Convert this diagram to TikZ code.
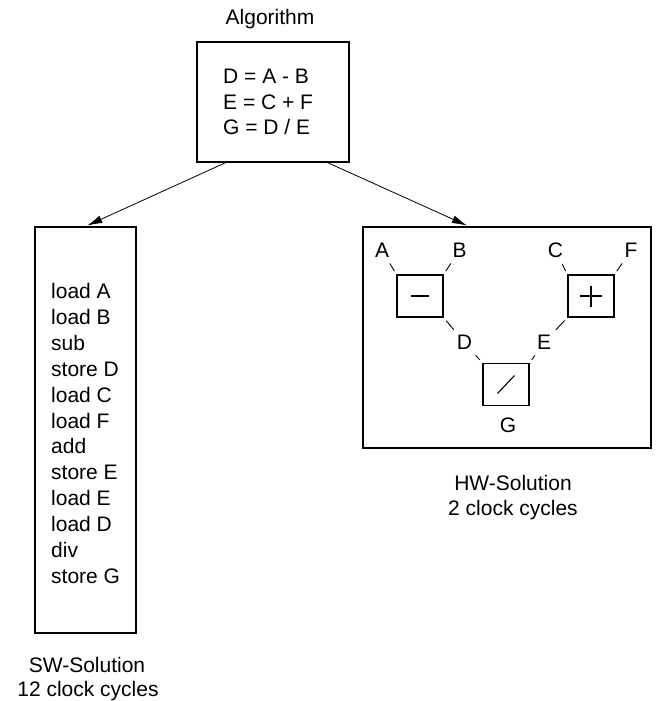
\documentclass[tikz,border=0pt]{standalone}
\usepackage{fontspec}
\setmainfont{Liberation Sans}
\usetikzlibrary{positioning}
\usetikzlibrary{arrows.meta}

\tikzset{
    box/.style={draw, line width=1.3pt, inner sep=0pt},
    opbox/.style={draw, line width=1.1pt, minimum width=46pt, minimum height=42pt, inner sep=0pt},
    sig/.style={inner sep=3pt},
    wire/.style={line width=0.9pt, shorten <=4pt, shorten >=3pt},
    flow/.style={line width=0.8pt, -{Latex[length=15pt,width=8pt]}, shorten >=2pt},
}

\begin{document}
\begin{tikzpicture}[x=1pt, y=-1pt, font=\fontsize{21}{25.6}\selectfont]
    \useasboundingbox (0,0) rectangle (656,701);

    % algorithm
    \node[anchor=base] (algtitle) at (270,25) {Algorithm};
    \node[box, minimum width=152pt, minimum height=120pt] (algo) at (273,102) {};
    \foreach \t [count=\i] in {D = A - B, E = C + F, G = D / E}
    {
        \node[anchor=base west, inner sep=0pt] (eq\i) at (223, 58+25.5*\i) {\t};
    }

    % software side
    \node[box, minimum width=101pt, minimum height=406pt] (swbox) at (85.5,430) {};
    \foreach \t [count=\i] in {load A, load B, sub, store D, load C, load F, add, store E, load E, load D, div, store G}
    {
        \node[anchor=base west, inner sep=0pt] (swline\i) at (51, 272.6+25.9*\i) {\t};
    }
    \node[anchor=base] (swcap1) at (87,672) {SW-Solution};
    \node[anchor=base] (swcap2) at (88,696) {12 clock cycles};

    % hardware side
    \node[box, minimum width=288pt, minimum height=221pt] (hwbox) at (507,337.5) {};
    \node[opbox] (sub) at (420,296) {};
    \node[opbox] (add) at (591,296) {};
    \node[opbox] (div) at (506,384.5) {};
    \draw[line width=1.1pt] (sub.center) +(-9,0) -- +(9,0);
    \draw[line width=1.1pt] (add.center) +(-11,0) -- +(11,0);
    \draw[line width=1.1pt] (add.center) +(0,-10.5) -- +(0,10.5);
    \draw[line width=1.1pt] (div.center) +(-8.5pt,-9pt) -- +(8.5pt,9pt);

    \node[sig] (A) at (382,250.5) {A};
    \node[sig] (B) at (459.5,250.5) {B};
    \node[sig] (C) at (555.5,250.5) {C};
    \node[sig] (F) at (631,250.5) {F};
    \node[sig] (D) at (464.5,342.5) {D};
    \node[sig] (E) at (544,342.5) {E};
    \node[sig] (G) at (508,425.5) {G};

    \draw[wire] (sub.north west) -- (A);
    \draw[wire] (sub.north east) -- (B);
    \draw[wire] (add.north west) -- (C);
    \draw[wire] (add.north east) -- (F);
    \draw[wire] (sub.south east) -- (D);
    \draw[wire] (div.north west) -- (D);
    \draw[wire] (add.south west) -- (E);
    \draw[wire] (div.north east) -- (E);

    \node[anchor=base] (hwcap1) at (513,490) {HW-Solution};
    \node[anchor=base] (hwcap2) at (513,515.5) {2 clock cycles};

    % the two ways down
    \draw[flow] (algo.232) -- (swbox.north);
    \draw[flow] (algo.-48) -- (hwbox.109);
\end{tikzpicture}
\end{document}
